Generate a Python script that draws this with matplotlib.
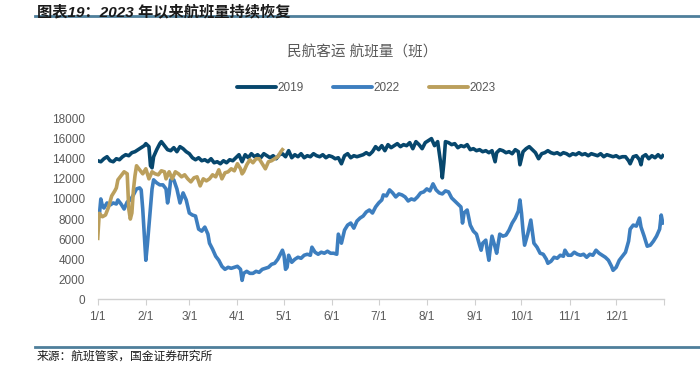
import matplotlib
matplotlib.use("Agg")
import matplotlib.pyplot as plt
from matplotlib.lines import Line2D

plt.rcParams['font.family'] = ['Liberation Sans', 'Noto Sans CJK SC']

# day of year (0 = Jan 1) and flights per day
days2019 = [0, 2, 4, 6, 8, 10, 12, 14, 16, 18, 20, 22, 24, 26, 28, 30, 31, 33, 34, 35, 36, 38, 40, 41, 43, 45,
            47, 49, 51, 53, 55, 57, 59, 61, 63, 65, 67, 69, 71, 73, 75, 77, 79, 81, 83, 85, 87, 89, 91, 93, 95,
            97, 99, 101, 103, 105, 107, 109, 111, 113, 115, 117, 119, 121, 123, 125, 127, 129, 131, 133, 135,
            137, 139, 141, 143, 145, 147, 149, 151, 153, 155, 157, 159, 161, 163, 165, 167, 169, 171, 173, 175,
            177, 179, 181, 183, 185, 187, 189, 191, 193, 195, 197, 199, 201, 203, 205, 207, 209, 211, 213, 215,
            217, 219, 221, 222, 223, 224, 226, 228, 230, 232, 234, 236, 238, 240, 242, 244, 246, 248, 250, 252,
            254, 256, 257, 259, 261, 263, 265, 267, 269, 271, 272, 274, 276, 278, 280, 282, 284, 286, 288, 290,
            292, 294, 296, 298, 300, 302, 304, 306, 308, 310, 312, 314, 316, 318, 320, 322, 324, 326, 328, 330,
            332, 334, 336, 338, 340, 342, 343, 345, 347, 349, 350, 351, 353, 355, 357, 359, 361, 363, 364]
vals2019 = [13800, 13700, 14000, 14200, 13800, 13700, 14000, 13900, 14200, 14400, 14300, 14600, 14700, 14900,
            15100, 15300, 15500, 15200, 13300, 13100, 14200, 14900, 15500, 15700, 15300, 14900, 14800, 15100,
            14700, 15200, 15000, 14700, 14500, 14100, 13900, 14100, 13800, 13900, 13700, 14000, 13600, 13700,
            13500, 13800, 13600, 13900, 13800, 14100, 14400, 13700, 14400, 14100, 14500, 14200, 14400, 14100,
            14500, 14300, 14100, 14300, 14000, 14400, 14500, 14200, 14800, 14100, 14400, 14200, 14500, 14100,
            14300, 14200, 14500, 14300, 14200, 14400, 14100, 14300, 14200, 14000, 14100, 13500, 14300, 14500,
            14100, 14300, 14200, 14300, 14400, 14600, 14400, 14700, 15200, 14900, 15300, 14800, 15400, 15100,
            15300, 15500, 15200, 15400, 15300, 15600, 15000, 15700, 15400, 15000, 15600, 15800, 16000, 15300,
            15700, 13500, 12100, 13600, 15700, 15600, 15400, 15500, 15100, 15300, 15200, 15400, 14900, 15000,
            14800, 14900, 14700, 14800, 14600, 14800, 13700, 14600, 14900, 14800, 14600, 14700, 14500, 14900,
            14700, 13400, 14700, 15000, 15200, 14900, 14600, 14000, 14500, 14600, 14800, 14600, 14500, 14600,
            14400, 14600, 14500, 14300, 14500, 14400, 14600, 14400, 14500, 14300, 14500, 14400, 14300, 14500,
            14200, 14400, 14300, 14200, 14300, 14100, 14200, 14200, 13800, 13500, 14200, 14300, 13900, 13400,
            14200, 14400, 14000, 14300, 14100, 14400, 14100, 14300]

days2022 = [0, 1, 2, 3, 4, 6, 8, 10, 12, 13, 15, 17, 19, 21, 23, 25, 27, 28, 29, 30, 31, 32, 33, 34, 35, 36, 38,
            40, 42, 44, 45, 46, 47, 49, 51, 53, 55, 57, 59, 61, 63, 65, 67, 69, 71, 72, 74, 76, 78, 80, 82, 84,
            86, 88, 90, 92, 93, 94, 96, 98, 100, 102, 104, 106, 108, 110, 112, 114, 116, 118, 119, 120, 121,
            122, 123, 125, 127, 129, 131, 133, 135, 137, 138, 140, 142, 144, 146, 148, 150, 152, 154, 155, 157,
            159, 161, 163, 165, 167, 169, 171, 173, 175, 177, 179, 181, 183, 184, 186, 188, 190, 192, 194, 196,
            198, 200, 202, 204, 206, 208, 210, 212, 214, 216, 218, 220, 222, 224, 226, 228, 230, 232, 234, 235,
            236, 238, 240, 242, 244, 246, 247, 248, 250, 251, 252, 253, 254, 256, 257, 259, 261, 263, 265, 267,
            269, 271, 272, 273, 274, 275, 277, 279, 281, 283, 285, 287, 289, 290, 292, 294, 296, 298, 300, 301,
            303, 305, 307, 309, 311, 313, 315, 317, 319, 321, 323, 325, 327, 329, 331, 332, 334, 336, 338, 340,
            342, 343, 345, 347, 349, 350, 352, 354, 356, 358, 360, 362, 363, 364]
vals2022 = [8570, 8300, 10000, 9300, 9100, 9600, 9400, 9600, 9500, 9900, 9500, 9000, 9700, 9900, 10400, 11000,
            11100, 10900, 9000, 6500, 3900, 5500, 7300, 9000, 11000, 11900, 11600, 11400, 11400, 11000, 9600,
            10500, 11900, 11900, 11000, 9600, 10600, 9900, 8600, 8400, 8300, 7000, 6800, 7200, 6500, 5600, 5000,
            4300, 3900, 3300, 3000, 3200, 3100, 3200, 3300, 3000, 1900, 2600, 2800, 2600, 2600, 2800, 2700, 3000,
            3100, 3200, 3500, 3600, 4000, 4600, 4900, 4400, 3000, 3200, 4400, 3700, 4000, 4200, 4100, 4400, 4500,
            4400, 5200, 4700, 4500, 4700, 4600, 4800, 4600, 4600, 4500, 6500, 5600, 6900, 7400, 7600, 7100, 7800,
            8100, 8300, 8700, 8900, 8600, 9200, 9600, 9900, 10400, 10300, 10900, 10600, 10200, 10500, 10400,
            10200, 9800, 10000, 9900, 10200, 10600, 10700, 11000, 10800, 11500, 10900, 10600, 10500, 10800,
            10700, 10100, 9800, 9500, 9200, 7600, 8600, 8900, 7400, 6800, 6500, 5400, 4900, 5600, 5900, 4800,
            3900, 5200, 6300, 5200, 4600, 6500, 6300, 6400, 6900, 7600, 8100, 8800, 9900, 8600, 6800, 5400,
            6500, 7900, 5600, 5200, 4600, 4500, 4000, 3600, 3800, 4200, 4100, 4400, 4300, 4900, 4400, 4400,
            4700, 4500, 4400, 4500, 4200, 4500, 4400, 4900, 4600, 4400, 4200, 3900, 3300, 2900, 3200, 3900,
            4300, 4700, 5800, 7000, 7400, 7300, 8100, 7200, 6300, 5300, 5400, 5800, 6300, 7000, 8400, 7600]

days2023 = [0, 1, 3, 5, 7, 9, 11, 12, 13, 15, 17, 19, 20, 21, 22, 23, 24, 25, 27, 29, 31, 33, 35, 37, 39, 41,
            43, 44, 46, 48, 50, 52, 54, 56, 58, 60, 62, 64, 66, 68, 70, 72, 74, 76, 78, 80, 82, 84, 86, 88, 90,
            92, 93, 94, 96, 98, 100, 102, 104, 106, 108, 110, 112, 114, 116, 118, 119]
vals2023 = [6080, 8570, 8230, 8400, 9200, 10300, 10800, 11100, 11900, 12300, 12700, 12500, 9000, 8000, 8600,
            10900, 12300, 13300, 12900, 12500, 13000, 12000, 12700, 12500, 12400, 12800, 12700, 12000, 12700,
            12000, 12700, 12500, 12200, 12400, 12000, 11700, 12100, 12200, 11300, 12000, 11800, 12000, 12400,
            12200, 12900, 12000, 12600, 12700, 13000, 12800, 13500, 13000, 12500, 12700, 13400, 13900, 13600,
            14000, 14000, 13500, 13000, 13700, 13800, 14000, 14200, 14700, 14900]

month_starts = [0, 31, 59, 90, 120, 151, 181, 212, 243, 273, 304, 334]
month_labels = ['1/1', '2/1', '3/1', '4/1', '5/1', '6/1', '7/1', '8/1', '9/1', '10/1', '11/1', '12/1']
yticks = [0, 2000, 4000, 6000, 8000, 10000, 12000, 14000, 16000, 18000]

c2019 = '#07476d'
c2022 = '#3d7ebf'
c2023 = '#bb9f5c'
grey = '#595959'

fig = plt.figure(figsize=(7, 3.65), dpi=100)
ax = fig.add_axes([0.1396, 0.1795, 0.8094, 0.4958])

ax.plot(days2019, vals2019, color=c2019, lw=2.6, solid_joinstyle='round')
ax.plot(days2022, vals2022, color=c2022, lw=2.6, solid_joinstyle='round')
ax.plot(days2023, vals2023, color=c2023, lw=2.6, solid_joinstyle='round')

ax.set_xlim(0, 365)
ax.set_ylim(0, 18000)
ax.set_yticks(yticks)
ax.set_yticklabels([str(v) for v in yticks])
ax.set_xticks(month_starts + [365])
ax.set_xticklabels(month_labels + [''])
ax.tick_params(axis='y', length=0, pad=9, labelsize=8.5, labelcolor=grey)
ax.tick_params(axis='x', length=4, width=0.8, color='#d0d0d0', pad=4, labelsize=8.5, labelcolor=grey)
for s in ['top', 'right', 'left']:
    ax.spines[s].set_visible(False)
ax.spines['bottom'].set_color('#d0d0d0')
ax.spines['bottom'].set_linewidth(1.0)

fig.text(0.517, 0.857, '民航客运 航班量（班）', ha='center', va='center', fontsize=10.5, color=grey)

handles = [Line2D([], [], color=c2019, lw=2.8, solid_capstyle='round'),
           Line2D([], [], color=c2022, lw=2.8, solid_capstyle='round'),
           Line2D([], [], color=c2023, lw=2.8, solid_capstyle='round')]
fig.legend(handles, ['2019', '2022', '2023'], loc='center', bbox_to_anchor=(0.523, 0.758), ncol=3,
           frameon=False, fontsize=8.5, handlelength=3.3, handletextpad=0.1, columnspacing=2.5,
           labelcolor=grey)

# header and footer
fig.text(0.053, 0.988, '图表19：2023 年以来航班量持续恢复', ha='left', va='top', fontsize=11,
         fontweight='bold', fontstyle='italic', color='#1a1a1a')
fig.add_artist(Line2D([0.05, 1.0], [0.955, 0.955], color='#4e7f9b', lw=2))
fig.add_artist(Line2D([0.05, 1.0], [0.049, 0.049], color='#4e7f9b', lw=2))
fig.text(0.052, 0.022, '来源：航班管家，国金证券研究所', ha='left', va='center', fontsize=8.5, color='#1a1a1a')

fig.savefig('out.png', dpi=100)
